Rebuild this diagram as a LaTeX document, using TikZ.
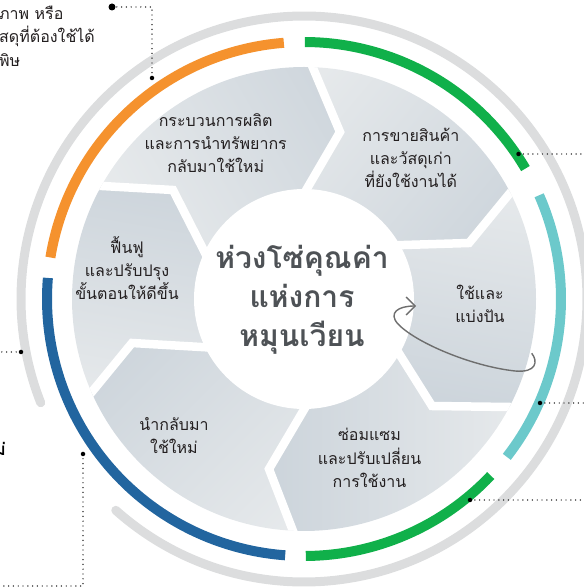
\documentclass[tikz,border=0pt]{standalone}
\usepackage{fontspec}
\newfontfamily\thai[Script=Thai]{Loma}
\usetikzlibrary{calc,arrows.meta}
\definecolor{ringorange}{HTML}{F5922E}
\definecolor{ringgreen}{HTML}{10B04A}
\definecolor{ringteal}{HTML}{6CC9CB}
\definecolor{ringblue}{HTML}{22659F}
\definecolor{ringgray}{HTML}{DCDDDE}
\definecolor{segdark}{HTML}{CCD4DB}
\definecolor{seglight}{HTML}{ECEEEF}
\definecolor{titlegray}{HTML}{4E5256}
\definecolor{labelink}{HTML}{231F20}
\definecolor{loopgray}{HTML}{6E6E6E}
\begin{document}
\begin{tikzpicture}[x=1pt,y=1pt,
  ringarc/.style={line width=10pt},
  lbl/.style={font=\thai\fontsize{16}{23.3}\selectfont, text=labelink, align=center, inner sep=0pt},
  ttl/.style={font=\thai\bfseries\fontsize{30}{39}\selectfont, text=titlegray, align=center, inner sep=0pt},
  dotline/.style={line width=1.4pt, dash pattern=on 0pt off 4.8pt, line cap=round},
  enddot/.style={fill=black, circle, inner sep=0pt, minimum size=4.5pt},
  gapline/.style={draw=white, line width=8.5pt, line join=miter},
  seg/.style={left color=segdark, right color=seglight},
]
\useasboundingbox (0,0) rectangle (584,587);
\clip (0,0) rectangle (584,587);
\coordinate (C) at (304,288);

% outer gray ring
\draw[ringgray, line width=9pt, line cap=round] (C) ++(228.3:283) arc[start angle=228.3, end angle=561.5, radius=283];

% coloured ring
\draw[ringarc, ringorange] (C) ++(94.5:257) arc[start angle=94.5, end angle=170.7, radius=257];
\draw[ringarc, ringblue] (C) ++(175.3:257) arc[start angle=175.3, end angle=265.8, radius=257];
\draw[ringarc, ringgreen] (C) ++(270.4:257) arc[start angle=270.4, end angle=316.6, radius=257];
\draw[ringarc, ringteal] (C) ++(322.1:257) arc[start angle=322.1, end angle=383.8, radius=257];
\draw[ringarc, ringgreen] (C) ++(30.5:257) arc[start angle=30.5, end angle=89.8, radius=257];

% segment boundaries
\coordinate (O1) at (313,519); \coordinate (T1) at (340,455); \coordinate (I1) at (305,395);
\coordinate (O2) at (510,394); \coordinate (T2) at (469,344); \coordinate (I2) at (404,342);
\coordinate (O3) at (510,180); \coordinate (T3) at (432,181); \coordinate (I3) at (400,232);
\coordinate (O4) at (293,56);  \coordinate (T4) at (269,118); \coordinate (I4) at (302,174);
\coordinate (O5) at (91,194);  \coordinate (T5) at (132,244); \coordinate (I5) at (201,240);
\coordinate (O6) at (102,401); \coordinate (T6) at (173,397); \coordinate (I6) at (200,344);
\foreach \k in {1,...,6}{
  \coordinate (O\k x) at ($(T\k)!1.8!(O\k)$);
  \coordinate (I\k x) at ($(T\k)!1.8!(I\k)$);
}
\coordinate (FA) at ($(C)+(120:420)$);
\coordinate (FB) at ($(C)+(60:420)$);
\coordinate (FC) at ($(C)+(0:420)$);
\coordinate (FD) at ($(C)+(-60:420)$);
\coordinate (FE) at ($(C)+(-120:420)$);
\coordinate (FF) at ($(C)+(180:420)$);

\begin{scope}
\clip (C) circle[radius=232];
\shade[seg, shading angle=-60] (C) -- (I6x) -- (T6) -- (O6x) -- (FA) -- (O1x) -- (T1) -- (I1x) -- cycle;
\shade[seg, shading angle=-130] (C) -- (I1x) -- (T1) -- (O1x) -- (FB) -- (O2x) -- (T2) -- (I2x) -- cycle;
\shade[seg, shading angle=170] (C) -- (I2x) -- (T2) -- (O2x) -- (FC) -- (O3x) -- (T3) -- (I3x) -- cycle;
\shade[seg, shading angle=90] (C) -- (I3x) -- (T3) -- (O3x) -- (FD) -- (O4x) -- (T4) -- (I4x) -- cycle;
\shade[seg, shading angle=45] (C) -- (I4x) -- (T4) -- (O4x) -- (FE) -- (O5x) -- (T5) -- (I5x) -- cycle;
\shade[seg, shading angle=-10] (C) -- (I5x) -- (T5) -- (O5x) -- (FF) -- (O6x) -- (T6) -- (I6x) -- cycle;
\foreach \k in {1,...,6}{
  \draw[gapline] (O\k x) -- (T\k) -- (I\k x);
}
\end{scope}
\fill[white] (C) circle[radius=110];

% labels
\node[ttl] (title) at (302,287) {ห่วงโซ่คุณค่า\\แห่งการ\\หมุนเวียน};
\node[lbl] (sA) at (215.7,444) {กระบวนการผลิต\\และการนำทรัพยากร\\กลับมาใช้ใหม่};
\node[lbl] (sB) at (410.8,429) {การขายสินค้า\\และวัสดุเก่า\\ที่ยังใช้งานได้};
\node[lbl] (sC) at (480,283) {ใช้และ\\แบ่งปัน};
\node[lbl] (sD) at (369.5,129) {ซ่อมแซม\\และปรับเปลี่ยน\\การใช้งาน};
\node[lbl] (sE) at (174,151.5) {นำกลับมา\\ใช้ใหม่};
\node[lbl] (sF) at (127,319) {ฟื้นฟู\\และปรับปรุง\\ขั้นตอนให้ดีขึ้น};

% clipped side texts
\node[lbl, align=left, anchor=west] (tl) at (-1,551) {ภาพ หรือ\\สดุที่ต้องใช้ได้\\พิษ};
\node[font=\thai\bfseries\fontsize{17}{20}\selectfont, inner sep=0pt, anchor=east] (frag) at (6,138) {ใหม่};

% circular arrow
\coordinate (ls) at (531.7,233.7);
\coordinate (le) at (416,281);
\draw[loopgray, line width=1.4pt, -{Straight Barb[length=9pt,width=18pt]}] (ls) .. controls (538,226) and (537,214) .. (515,216) .. controls (470,221) and (415,245) .. (398,263) .. controls (388,274) and (398,281) .. (le);

% dotted leaders
\coordinate (p1) at (112,580);
\node[enddot, minimum size=7pt] (p1dot) at (p1) {};
\node[enddot] (q1dot) at (152,509) {};
\draw[dotline] (p1dot.center) -| (q1dot.center);

\node[enddot] (r1) at (518.5,433) {};
\coordinate (r1e) at (584,433);
\draw[dotline] (r1.center) -- (r1e);
\node[enddot] (r2) at (540,184) {};
\coordinate (r2e) at (584,184);
\draw[dotline] (r2.center) -- (r2e);
\node[enddot] (r3) at (470,87) {};
\coordinate (r3e) at (584,87);
\draw[dotline] (r3.center) -- (r3e);

\node[enddot] (l1) at (21,235) {};
\coordinate (l1e) at (0,235);
\draw[dotline] (l1.center) -- (l1e);
\node[enddot] (l2) at (83,133) {};
\coordinate (l2c) at (83,1);
\coordinate (l2e) at (0,1);
\draw[dotline] (l2.center) -- (l2c) -- (l2e);
\end{tikzpicture}
\end{document}
